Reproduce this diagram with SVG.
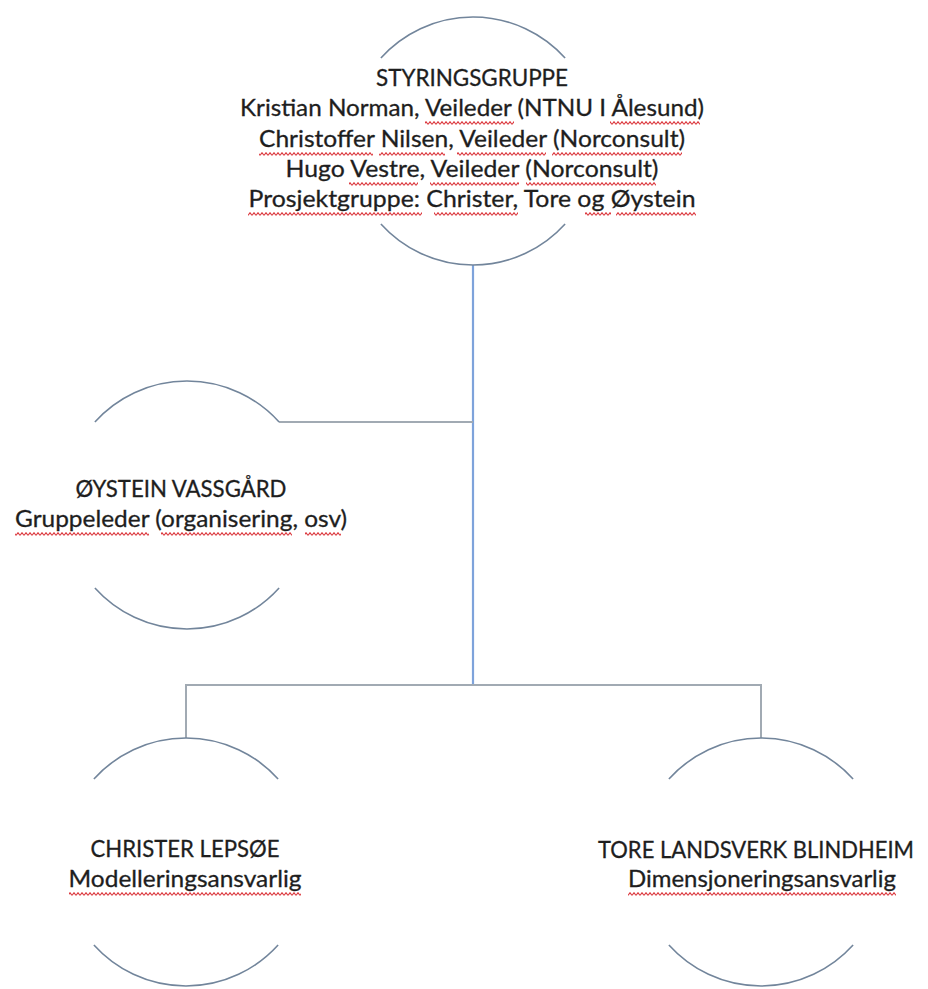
<svg xmlns="http://www.w3.org/2000/svg" width="928" height="989" viewBox="0 0 928 989">
  <style>
    .arc { fill: none; stroke: #72859b; stroke-width: 1.6; }
    .link { fill: none; stroke: #a1aab3; stroke-width: 2; }
    .trunk { fill: none; stroke: #7ea3db; stroke-width: 2.2; }
    .lbl { font-family: Lato, "Liberation Sans", sans-serif; font-size: 23.5px; fill: #1e1e1e; stroke: #1e1e1e; stroke-width: 0.3; text-anchor: middle; }
    .sq { fill: url(#squiggle); }
  </style>
  <defs>
    <!-- red wavy spell-check underline, tiled horizontally -->
    <pattern id="squiggle" width="4" height="4" patternUnits="userSpaceOnUse">
      <path d="M0,3.3 L2,0.7 L4,3.3" fill="none" stroke="#dc3a40" stroke-width="1.1"/>
    </pattern>
  </defs>
  <rect width="928" height="989" fill="#ffffff"/>

  <!-- connectors -->
  <g id="connectors">
    <path class="trunk" d="M473,265 V685"/>
    <path class="link" d="M473,422 H279"/>
    <path class="link" d="M186,738 V685 H761 V738"/>
  </g>

  <!-- steering group -->
  <g id="node-styringsgruppe">
    <path class="arc" d="M380.9,58 A124,124 0 0 1 565.1,58"/>
    <path class="arc" d="M380.9,224 A124,124 0 0 0 565.1,224"/>
    <text class="lbl" x="472" y="86" textLength="192" lengthAdjust="spacingAndGlyphs">STYRINGSGRUPPE</text>
    <text class="lbl" x="472" y="116" textLength="464" lengthAdjust="spacingAndGlyphs">Kristian Norman, Veileder (NTNU I Ålesund)</text>
    <text class="lbl" x="472" y="147" textLength="426" lengthAdjust="spacingAndGlyphs">Christoffer Nilsen, Veileder (Norconsult)</text>
    <text class="lbl" x="472" y="177" textLength="373" lengthAdjust="spacingAndGlyphs">Hugo Vestre, Veileder (Norconsult)</text>
    <text class="lbl" x="472" y="207" textLength="447" lengthAdjust="spacingAndGlyphs">Prosjektgruppe: Christer, Tore og Øystein</text>
    <g transform="translate(0,121)">
      <rect class="sq" x="425" y="0" width="89" height="4"/>
      <rect class="sq" x="610" y="0" width="90" height="4"/>
    </g>
    <g transform="translate(0,152)">
      <rect class="sq" x="259" y="0" width="114" height="4"/>
      <rect class="sq" x="379" y="0" width="66" height="4"/>
      <rect class="sq" x="457" y="0" width="89" height="4"/>
      <rect class="sq" x="552" y="0" width="130" height="4"/>
    </g>
    <g transform="translate(0,182)">
      <rect class="sq" x="349" y="0" width="69" height="4"/>
      <rect class="sq" x="430" y="0" width="89" height="4"/>
      <rect class="sq" x="526" y="0" width="130" height="4"/>
    </g>
    <g transform="translate(0,212)">
      <rect class="sq" x="248" y="0" width="174" height="4"/>
      <rect class="sq" x="434" y="0" width="84" height="4"/>
      <rect class="sq" x="585" y="0" width="26" height="4"/>
      <rect class="sq" x="616" y="0" width="80" height="4"/>
    </g>
  </g>

  <!-- group leader -->
  <g id="node-oystein">
    <path class="arc" d="M94.9,422 A124,124 0 0 1 279.1,422"/>
    <path class="arc" d="M94.9,588 A124,124 0 0 0 279.1,588"/>
    <text class="lbl" x="181" y="497" textLength="211" lengthAdjust="spacingAndGlyphs">ØYSTEIN VASSGÅRD</text>
    <text class="lbl" x="181" y="527" textLength="332" lengthAdjust="spacingAndGlyphs">Gruppeleder (organisering, osv)</text>
    <g transform="translate(0,532)">
      <rect class="sq" x="15" y="0" width="134" height="4"/>
      <rect class="sq" x="161" y="0" width="131" height="4"/>
      <rect class="sq" x="305" y="0" width="36" height="4"/>
    </g>
  </g>

  <!-- modelling -->
  <g id="node-christer">
    <path class="arc" d="M93.9,779 A124,124 0 0 1 278.1,779"/>
    <path class="arc" d="M93.9,945 A124,124 0 0 0 278.1,945"/>
    <text class="lbl" x="185" y="857" textLength="189" lengthAdjust="spacingAndGlyphs">CHRISTER LEPSØE</text>
    <text class="lbl" x="185" y="887" textLength="233" lengthAdjust="spacingAndGlyphs">Modelleringsansvarlig</text>
    <g transform="translate(0,892)">
      <rect class="sq" x="69" y="0" width="232" height="4"/>
    </g>
  </g>

  <!-- dimensioning -->
  <g id="node-tore">
    <path class="arc" d="M668.9,779 A124,124 0 0 1 853.1,779"/>
    <path class="arc" d="M668.9,945 A124,124 0 0 0 853.1,945"/>
    <text class="lbl" x="756" y="858" style="font-size:22.8px" textLength="316" lengthAdjust="spacingAndGlyphs">TORE LANDSVERK BLINDHEIM</text>
    <text class="lbl" x="762" y="887" textLength="268" lengthAdjust="spacingAndGlyphs">Dimensjoneringsansvarlig</text>
    <g transform="translate(0,892)">
      <rect class="sq" x="628" y="0" width="268" height="4"/>
    </g>
  </g>
</svg>
